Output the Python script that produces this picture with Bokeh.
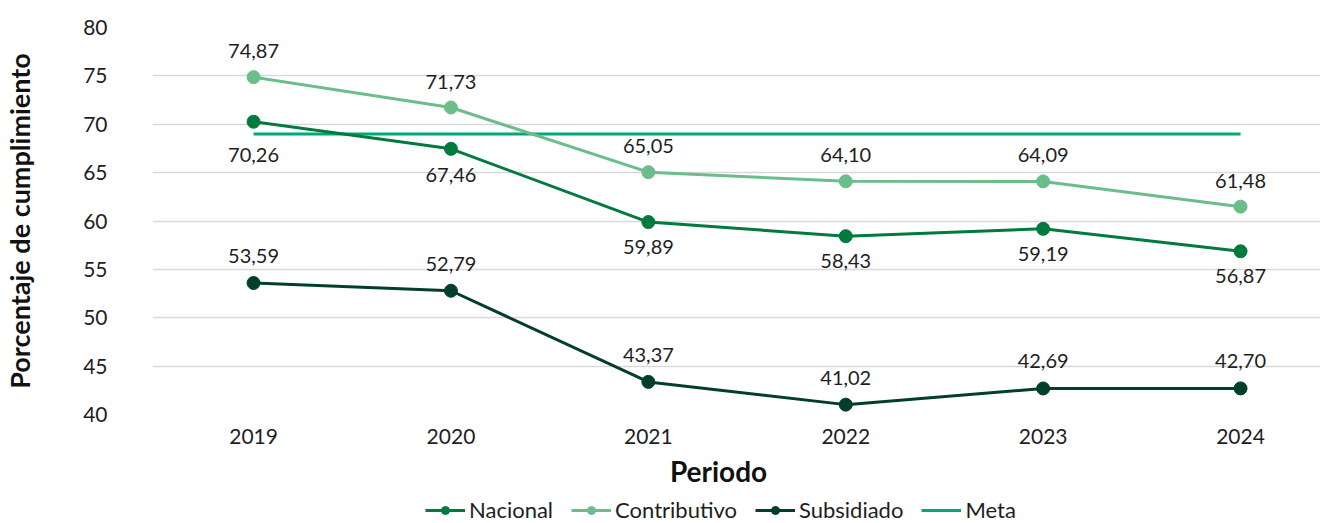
from bokeh.plotting import figure
from bokeh.layouts import column
from bokeh.models import (ColumnDataSource, Legend, LegendItem, FixedTicker,
                          LabelSet, Label, Range1d)
from bokeh.core.properties import value
from bokeh.embed import file_html
from bokeh.resources import INLINE

years = ["2019", "2020", "2021", "2022", "2023", "2024"]
nacional = [70.26, 67.46, 59.89, 58.43, 59.19, 56.87]
contributivo = [74.87, 71.73, 65.05, 64.10, 64.09, 61.48]
subsidiado = [53.59, 52.79, 43.37, 41.02, 42.69, 42.70]
meta = [69, 69, 69, 69, 69, 69]
y_ticks = [40, 45, 50, 55, 60, 65, 70, 75, 80]

# label placement (pixels, style only)
NAC_LABEL_DY = [-33, -26, -25, -25, -25, -25]

FONT = "Lato"
C_NAC = "#007A3D"
C_CON = "#6BBE8A"
C_SUB = "#023F28"
C_META = "#00A87A"
TXT = "#1E1E1E"

x = list(range(len(years)))

def fmt(v):
    return f"{v:.2f}".replace(".", ",")

p = figure(frame_width=1168, frame_height=387, output_backend="svg", toolbar_location=None,
           x_range=Range1d(-0.512, 5.405), y_range=Range1d(40, 80),
           min_border_left=144, min_border_top=27, min_border_bottom=40,
           min_border_right=8)
p.outline_line_color = None
p.background_fill_color = "white"
p.border_fill_color = "white"

p.xgrid.grid_line_color = None
p.ygrid.grid_line_color = "#D9D9D9"
p.ygrid.grid_line_width = 1.5

p.xaxis.ticker = FixedTicker(ticks=x)
p.xaxis.major_label_overrides = {i: y for i, y in enumerate(years)}
p.yaxis.ticker = FixedTicker(ticks=y_ticks)
for ax in (p.xaxis, p.yaxis):
    ax.axis_line_color = None
    ax.major_tick_line_color = None
    ax.minor_tick_line_color = None
    ax.major_tick_out = 0
    ax.major_tick_in = 0
    ax.major_label_text_font = FONT
    ax.major_label_text_font_size = "21px"
    ax.major_label_text_color = TXT
    ax.axis_label_text_font = FONT
    ax.axis_label_text_font_style = "bold"
    ax.axis_label_text_font_size = "27px"
    ax.axis_label_text_color = "#111111"
p.yaxis.axis_label = "Porcentaje de cumplimiento"
p.xaxis.major_label_standoff = 14
p.yaxis.major_label_standoff = 45
p.yaxis.axis_label_standoff = 44

src = ColumnDataSource(dict(x=x, nac=nacional, con=contributivo, sub=subsidiado,
                            meta=meta,
                            nac_l=[fmt(v) for v in nacional],
                            con_l=[fmt(v) for v in contributivo],
                            sub_l=[fmt(v) for v in subsidiado],
                            nac_dy=NAC_LABEL_DY))

p.line("x", "meta", source=src, line_color=C_META, line_width=3)
p.line("x", "con", source=src, line_color=C_CON, line_width=3)
p.scatter("x", "con", source=src, size=13, color=C_CON)
p.line("x", "nac", source=src, line_color=C_NAC, line_width=3)
p.scatter("x", "nac", source=src, size=13, color=C_NAC)
p.line("x", "sub", source=src, line_color=C_SUB, line_width=3)
p.scatter("x", "sub", source=src, size=13, color=C_SUB)

def labels(col, text, yoff):
    ls = LabelSet(x="x", y=col, text=text, source=src, y_offset=yoff,
                  text_align="center", text_baseline="middle",
                  text_font=value(FONT), text_font_size="20px",
                  text_color=TXT)
    p.add_layout(ls)

labels("con", "con_l", 26)
labels("nac", "nac_l", "nac_dy")
labels("sub", "sub_l", 27)

# ---- bottom strip: x-axis title + legend (same frame geometry as p) ----
H2 = 69
q = figure(frame_width=1168, frame_height=H2, output_backend="svg", toolbar_location=None,
           x_range=Range1d(0, 1168), y_range=Range1d(0, 1),
           x_axis_type=None, y_axis_type=None,
           min_border_left=144, min_border_right=8, min_border_top=0, min_border_bottom=0)
q.outline_line_color = None
q.xgrid.grid_line_color = None
q.ygrid.grid_line_color = None

q.add_layout(Label(x=566, y=H2 - 16, x_units="data", y_units="screen",
                   text="Periodo", text_align="center", text_baseline="middle",
                   text_font=FONT, text_font_style="bold",
                   text_font_size="28px", text_color="#111111"))

# legend renderers: same data, outside this strip's y range (not visible here)
l_nac = q.line("x", "nac", source=src, line_color=C_NAC, line_width=3)
m_nac = q.scatter("x", "nac", source=src, size=14, color=C_NAC)
l_con = q.line("x", "con", source=src, line_color=C_CON, line_width=3)
m_con = q.scatter("x", "con", source=src, size=14, color=C_CON)
l_sub = q.line("x", "sub", source=src, line_color=C_SUB, line_width=3)
m_sub = q.scatter("x", "sub", source=src, size=14, color=C_SUB)
l_meta = q.line("x", "meta", source=src, line_color=C_META, line_width=3)

legend = Legend(items=[
    LegendItem(label="Nacional", renderers=[l_nac, m_nac]),
    LegendItem(label="Contributivo", renderers=[l_con, m_con]),
    LegendItem(label="Subsidiado", renderers=[l_sub, m_sub]),
    LegendItem(label="Meta", renderers=[l_meta]),
], orientation="horizontal", location=(273, 0))
legend.label_text_font = FONT
legend.label_text_font_size = "22px"
legend.label_text_color = TXT
legend.glyph_width = 40
legend.glyph_height = 20
legend.label_height = 20
legend.label_standoff = 4
legend.spacing = 18
legend.padding = 0
legend.margin = 0
legend.border_line_color = None
legend.background_fill_alpha = 0
q.add_layout(legend, "center")

layout = column(p, q, spacing=0)
open("out.html", "w").write(file_html(layout, INLINE))
